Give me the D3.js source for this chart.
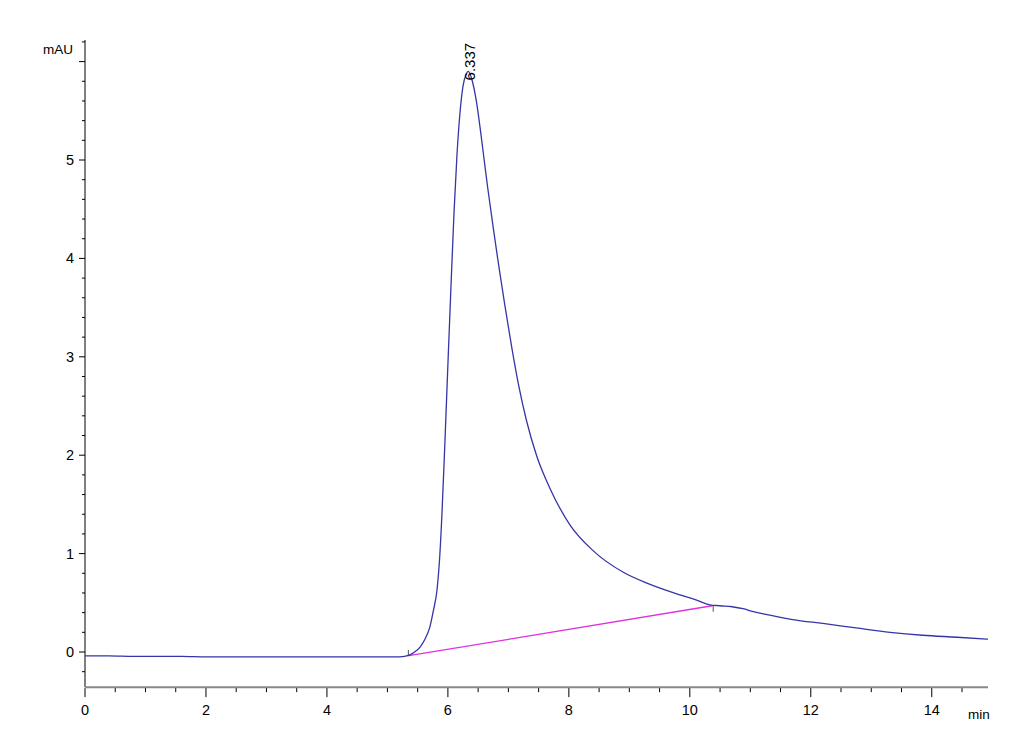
<!DOCTYPE html>
<html><head><meta charset="utf-8">
<script src="https://cdn.jsdelivr.net/npm/d3@7"></script>
<style>body{margin:0;background:#fff}svg{display:block;font-family:"Liberation Sans",Arial,sans-serif}</style>
</head><body><svg id="c" width="1030" height="755"></svg>
<script>
const times = [0,0.4,0.8,1.2,1.6,2.0,2.4,2.8,3.2,3.6,4.0,4.4,4.8,5.2,5.37,5.45,5.54,5.62,5.70,5.76,5.82,5.86,5.90,5.95,6.00,6.05,6.10,6.15,6.20,6.25,6.30,6.337,6.40,6.47,6.53,6.60,6.66,6.75,6.83,6.94,7.06,7.16,7.30,7.47,7.69,8.02,8.40,8.90,9.29,9.84,10.10,10.33,10.50,10.70,10.88,11.05,11.28,11.7,12.2,12.75,13.31,13.85,14.42,14.93];
const signal = [-0.04,-0.04,-0.045,-0.045,-0.045,-0.05,-0.05,-0.05,-0.05,-0.05,-0.05,-0.05,-0.05,-0.05,-0.03,0.0,0.05,0.13,0.25,0.42,0.63,0.92,1.38,2.12,2.92,3.70,4.45,5.05,5.48,5.75,5.87,5.9,5.81,5.6,5.34,5.0,4.71,4.31,3.97,3.53,3.08,2.74,2.35,1.99,1.66,1.29,1.03,0.81,0.70,0.58,0.53,0.48,0.47,0.46,0.44,0.41,0.38,0.33,0.29,0.245,0.20,0.17,0.15,0.13];
const baselineT = [5.33,10.37];
const baselineV = [-0.04,0.47];
const peakTime = 6.337, peakValue = 5.9, peakLabel = "6.337";
const xTicks = [0,2,4,6,8,10,12,14];
const yTicks = [0,1,2,3,4,5];

const svg = d3.select("#c");
const x = d3.scaleLinear().domain([0,14.93]).range([85,988]);
const y = d3.scaleLinear().domain([0,5]).range([652,160]);
const yTop = 6.22, yBot = -0.357;

// y axis
const ga = svg.append("g");
ga.append("line").attr("x1",85).attr("x2",85).attr("y1",y(yTop)).attr("y2",y(yBot)).attr("stroke","#000").attr("stroke-width",1);
d3.range(-0.2, 6.21, 0.2).forEach(v=>{
  const major = Math.abs(v-Math.round(v))<1e-6;
  ga.append("line").attr("x1",major?79:82).attr("x2",85).attr("y1",y(v)).attr("y2",y(v)).attr("stroke","#000").attr("stroke-width",1);
});
yTicks.forEach(v=>{
  ga.append("text").attr("x",74).attr("y",y(v)+5).attr("text-anchor","end").attr("font-size",14.5).text(v);
});
ga.append("text").attr("x",43).attr("y",54).attr("font-size",13.5).text("mAU");

// x axis
const gx = svg.append("g");
gx.append("line").attr("x1",85).attr("x2",988).attr("y1",y(yBot)).attr("y2",y(yBot)).attr("stroke","#888").attr("stroke-width",2);
d3.range(0,14.93,0.5).forEach(v=>{
  const major = Math.abs(v/2-Math.round(v/2))<1e-6;
  gx.append("line").attr("x1",x(v)).attr("x2",x(v)).attr("y1",y(yBot)+1).attr("y2",y(yBot)+(major?10:5)).attr("stroke","#000").attr("stroke-width",1);
});
xTicks.forEach(v=>{
  gx.append("text").attr("x",x(v)).attr("y",715).attr("text-anchor","middle").attr("font-size",14.5).text(v);
});
gx.append("text").attr("x",968).attr("y",719).attr("font-size",13.5).text("min");

// baseline
svg.append("line").attr("x1",x(baselineT[0])).attr("y1",y(baselineV[0])).attr("x2",x(baselineT[1])).attr("y2",y(baselineV[1])).attr("stroke","#e030e0").attr("stroke-width",1.3);
[0,1].forEach(i=>{
  svg.append("line").attr("x1",x(baselineT[i])+1).attr("x2",x(baselineT[i])+1).attr("y1",y(baselineV[i])-(i?0:6)).attr("y2",y(baselineV[i])+(i?6:0)).attr("stroke","#555").attr("stroke-width",1);
});

// signal
const line = d3.line().x((d,i)=>x(times[i])).y(d=>y(d)).curve(d3.curveMonotoneX);
svg.append("path").datum(signal).attr("d",line).attr("fill","none").attr("stroke","#3535a8").attr("stroke-width",1.3);

// peak label
svg.append("text").attr("transform",`translate(${x(peakTime)+7},${y(peakValue)+9}) rotate(-90)`).attr("font-size",15).text(peakLabel);
</script></body></html>
